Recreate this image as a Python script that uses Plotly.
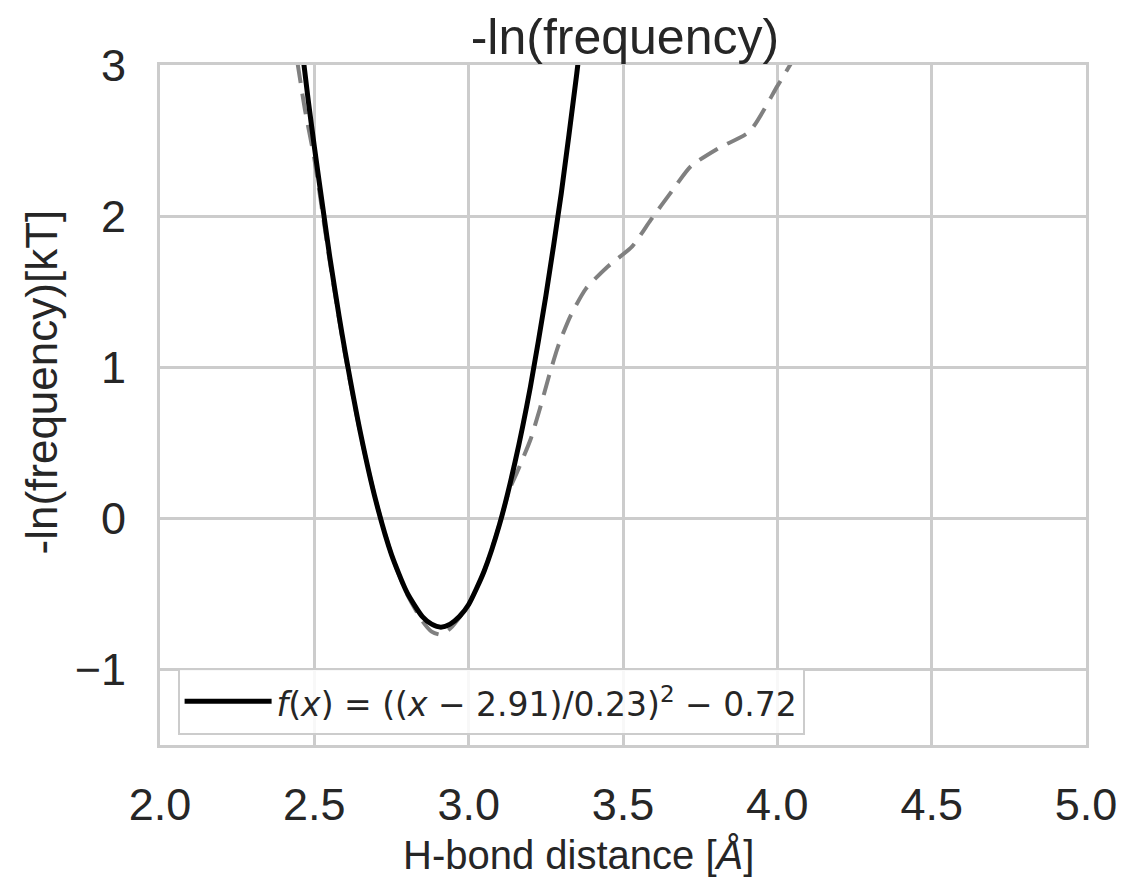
import plotly.graph_objects as go

# Fitted curve f(x) = ((x - 2.91)/0.23)^2 - 0.72
fit_x = [2.46, 2.48, 2.50, 2.53, 2.55, 2.58, 2.60, 2.65, 2.70, 2.75, 2.80, 2.85, 2.88, 2.91,
         2.94, 2.97, 3.00, 3.05, 3.10, 3.15, 3.20, 3.25, 3.30, 3.35, 3.37]
fit_y = [3.11, 2.77, 2.46, 2.02, 1.73, 1.34, 1.10, 0.56, 0.11, -0.24, -0.49, -0.65, -0.70, -0.72,
         -0.70, -0.65, -0.57, -0.35, -0.04, 0.37, 0.87, 1.47, 2.15, 2.94, 3.28]

# Observed -ln(frequency) (dashed grey)
obs_x = [2.445, 2.47, 2.50, 2.55, 2.60, 2.65, 2.70, 2.75, 2.80, 2.85, 2.88, 2.91, 2.94, 3.00,
         3.05, 3.10, 3.13, 3.16, 3.20, 3.23, 3.26, 3.29, 3.33, 3.38, 3.45, 3.53, 3.59,
         3.66, 3.72, 3.81, 3.91, 4.00, 4.05]
obs_y = [3.02, 2.70, 2.38, 1.70, 1.08, 0.55, 0.11, -0.24, -0.50, -0.68, -0.75, -0.77, -0.73, -0.57,
         -0.35, -0.04, 0.18, 0.32, 0.52, 0.72, 0.94, 1.14, 1.34, 1.52, 1.665, 1.80, 1.975,
         2.17, 2.33, 2.45, 2.56, 2.86, 3.03]

x_ticks = [2.0, 2.5, 3.0, 3.5, 4.0, 4.5, 5.0]
x_tick_labels = ["2.0", "2.5", "3.0", "3.5", "4.0", "4.5", "5.0"]
y_ticks = [-1, 0, 1, 2, 3]
y_tick_labels = ["\u22121", "0", "1", "2", "3"]

legend_label = ('<span style="font-size:33px"><i>f</i>(<i>x</i>) = ((<i>x</i> \u2212 2.91)/0.23)'
                '<sup>2</sup> \u2212 0.72</span>')

fig = go.Figure()
fig.add_trace(go.Scatter(
    x=obs_x, y=obs_y, mode="lines", showlegend=False,
    line=dict(color="#808080", width=4, dash="21px,11px", shape="spline", smoothing=0.6),
))
fig.add_trace(go.Scatter(
    x=fit_x, y=fit_y, mode="lines", name=legend_label,
    line=dict(color="black", width=5, shape="spline", smoothing=0.6),
))

grid = "#cccccc"
txt = "#262626"
font_fam = "Liberation Sans, Arial, sans-serif"
fig.update_layout(
    width=1129, height=890,
    margin=dict(l=160, r=39, t=65, b=145),
    paper_bgcolor="white", plot_bgcolor="white",
    font=dict(family=font_fam, color=txt),
    title=dict(text="-ln(frequency)", x=0.5535, xanchor="center", y=1 - 36 / 890,
               yanchor="middle", font=dict(size=50, family=font_fam, color=txt)),
    xaxis=dict(range=[2.0, 5.0], tickvals=x_ticks, ticktext=x_tick_labels,
               showgrid=True, gridcolor=grid, gridwidth=3, zeroline=False,
               showline=True, linecolor=grid, linewidth=3, mirror=True,
               ticks="", ticklabelstandoff=18,
               tickfont=dict(size=45, family=font_fam, color=txt)),
    yaxis=dict(range=[-1.5, 3.0], tickvals=y_ticks, ticktext=y_tick_labels,
               showgrid=True, gridcolor=grid, gridwidth=3, zeroline=False,
               showline=True, linecolor=grid, linewidth=3, mirror=True,
               ticks="", ticklabelstandoff=22,
               tickfont=dict(size=45, family=font_fam, color=txt)),
    legend=dict(x=0.019, y=0.113, xanchor="left", yanchor="top", itemwidth=87,
                bgcolor="rgba(255,255,255,0.85)", bordercolor=grid, borderwidth=2,
                font=dict(size=38, family="DejaVu Sans", color=txt)),
    annotations=[
        dict(text="H-bond distance [<i>Å</i>]", xref="paper", yref="paper",
             x=(580 - 160) / 930, y=-(855 - 745) / 680, xanchor="center", yanchor="middle",
             showarrow=False, font=dict(size=40, family=font_fam, color=txt)),
        dict(text="-ln(frequency)[kT]", xref="paper", yref="paper", textangle=-90,
             x=-(160 - 40) / 930, y=(745 - 382) / 680, xanchor="center", yanchor="middle",
             showarrow=False, font=dict(size=44, family=font_fam, color=txt)),
    ],
)

fig.write_html("out.html")
